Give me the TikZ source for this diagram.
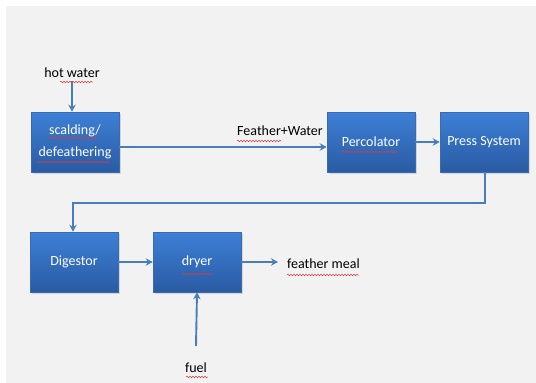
\documentclass[tikz,border=0pt]{standalone}
\usepackage{fontspec}
\setmainfont{Carlito}
\usetikzlibrary{arrows.meta,shadows,decorations.pathmorphing}
\definecolor{bg}{HTML}{F2F2F2}
\definecolor{boxtop}{HTML}{3D80D6}
\definecolor{boxbot}{HTML}{2A5BA4}
\definecolor{boxedge}{HTML}{3A6BB0}
\definecolor{arr}{HTML}{4A7EBB}
\definecolor{squig}{HTML}{D04040}
\tikzset{
  procbox/.style={draw=boxedge, line width=0.6pt, top color=boxtop, bottom color=boxbot,
    minimum width=88pt, minimum height=60pt, inner sep=2pt, text=white,
    font=\fontsize{14}{22}\selectfont, align=center,
    drop shadow={shadow xshift=1.5pt, shadow yshift=-1.5pt, opacity=0.25}},
  lbl/.style={font=\fontsize{14}{17}\selectfont, text=black, inner sep=1pt},
  flow/.style={draw=arr, line width=1.9pt, -{Stealth[length=7pt,width=7.5pt]}},
  spell/.style={draw=squig, line width=0.5pt, decorate,
    decoration={snake, amplitude=0.8pt, segment length=3pt}}
}
\begin{document}
\begin{tikzpicture}[x=1pt,y=-1pt]
\fill[white] (0,0) rectangle (536,383);
\fill[bg] (6,6) rectangle (536,383);
\useasboundingbox (0,0) rectangle (536,383);

\node[procbox] (scald) at (75,142) {scalding/\\defeathering};
\node[procbox] (perc) at (371,142) {Percolator};
\node[procbox] (press) at (484,142) {Press System};
\node[procbox] (dig) at (74,262) {Digestor};
\node[procbox] (dryer) at (197,262) {dryer};

\node[lbl] (hot) at (72,73) {hot water};
\node[lbl] (fw) at (280,131) {Feather+Water};
\node[lbl, anchor=west] (meal) at (286,264) {feather meal};
\node[lbl] (fuel) at (196,368) {fuel};

\coordinate (c1) at (485,203);
\coordinate (c2) at (73,203);
\coordinate (fuelstart) at (196,346);
\coordinate (mealend) at (278,262);

\draw[flow] (hot.south) ++(0,2) coordinate (hs) -- (hs |- scald.north);
\draw[flow] (scald.east |- 0,147) coordinate (se) -- (se -| perc.west);
\draw[flow] (perc.east) -- (press.west);
\draw[flow] (press.south -| c1) -- (c1) -- (c2) -- (c2 |- dig.north);
\draw[flow] (dig.east) -- (dryer.west);
\draw[flow] (dryer.east) -- (mealend);
\draw[flow] (fuelstart) -- (dryer.south);

% spell-check underlines
\draw[spell] (60,82) -- (93,82);
\draw[spell] (48,138) -- (97,138);
\draw[spell] (37,162) -- (110,162);
\draw[spell] (237,141) -- (281,141);
\draw[spell] (342,152) -- (398,152);
\draw[spell] (182,274) -- (212,274);
\draw[spell] (287,275) -- (359,275);
\draw[spell] (186,377) -- (208,377);
\end{tikzpicture}
\end{document}
